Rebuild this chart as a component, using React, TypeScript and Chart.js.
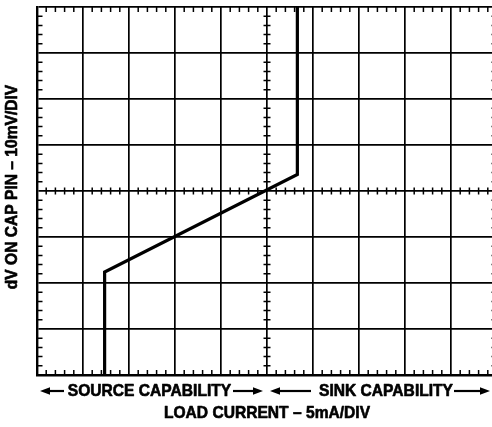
import React, { useEffect, useRef } from "react";
import { Chart, registerables } from "chart.js";

Chart.register(...registerables);

// Trace of dV on CAP pin (divisions) vs load current (divisions)
const traceX = [-3.53, -3.53, 0.66, 0.66];
const traceY = [-4, -1.76, 0.36, 4];

const xRange = [-5, 5];
const yRange = [-4, 4];
const minorPerDiv = 5;

const yTitle = "dV ON CAP PIN – 10mV/DIV";
const xTitle = "LOAD CURRENT – 5mA/DIV";
const sourceLabel = "SOURCE CAPABILITY";
const sinkLabel = "SINK CAPABILITY";

const FONT = '700 15.6px "Liberation Sans", Arial, Helvetica, sans-serif';

function boldText(ctx: CanvasRenderingContext2D, text: string, x: number, y: number) {
  ctx.save();
  ctx.translate(x, y);
  ctx.scale(1, 1.1);
  ctx.font = FONT;
  ctx.textAlign = "center";
  ctx.textBaseline = "middle";
  ctx.fillStyle = "#000";
  ctx.strokeStyle = "#000";
  ctx.lineWidth = 0.6;
  ctx.lineJoin = "round";
  ctx.fillText(text, 0, 0);
  ctx.strokeText(text, 0, 0);
  ctx.restore();
}

function arrow(ctx: CanvasRenderingContext2D, x1: number, x2: number, y: number) {
  const dir = x2 > x1 ? 1 : -1;
  const headLen = 10;
  const headHalf = 3.8;
  ctx.save();
  ctx.strokeStyle = "#000";
  ctx.fillStyle = "#000";
  ctx.lineWidth = 2.2;
  ctx.beginPath();
  ctx.moveTo(x1, y);
  ctx.lineTo(x2 - dir * headLen + dir * 1, y);
  ctx.stroke();
  ctx.beginPath();
  ctx.moveTo(x2, y);
  ctx.lineTo(x2 - dir * headLen, y - headHalf);
  ctx.lineTo(x2 - dir * headLen, y + headHalf);
  ctx.closePath();
  ctx.fill();
  ctx.restore();
}

const scopePlugin = {
  id: "scopeDecor",
  beforeDatasetsDraw(chart: any) {
    const ctx: CanvasRenderingContext2D = chart.ctx;
    const xs = chart.scales.x;
    const ys = chart.scales.y;
    const { left, right, top, bottom } = chart.chartArea;
    ctx.save();
    ctx.strokeStyle = "#000";
    ctx.lineWidth = 1.5;
    ctx.beginPath();
    const x0 = xs.getPixelForValue(0);
    const y0 = ys.getPixelForValue(0);
    for (let i = xRange[0] * minorPerDiv; i <= xRange[1] * minorPerDiv; i++) {
      if (i % minorPerDiv === 0) continue;
      const px = xs.getPixelForValue(i / minorPerDiv);
      ctx.moveTo(px, top);
      ctx.lineTo(px, top + 5);
      ctx.moveTo(px, bottom);
      ctx.lineTo(px, bottom - 5);
      ctx.moveTo(px, y0 - 3.5);
      ctx.lineTo(px, y0 + 3.5);
    }
    for (let i = yRange[0] * minorPerDiv; i <= yRange[1] * minorPerDiv; i++) {
      if (i % minorPerDiv === 0) continue;
      const py = ys.getPixelForValue(i / minorPerDiv);
      ctx.moveTo(left, py);
      ctx.lineTo(left + 5.5, py);
      ctx.moveTo(right, py);
      ctx.lineTo(right - 5.5, py);
      ctx.moveTo(x0 - 3.5, py);
      ctx.lineTo(x0 + 3.5, py);
    }
    ctx.stroke();
    ctx.restore();
  },
  afterDraw(chart: any) {
    const ctx: CanvasRenderingContext2D = chart.ctx;
    const { left, top, bottom } = chart.chartArea;
    // y title
    ctx.save();
    ctx.translate(left - 25, (top + bottom) / 2 - 4);
    ctx.rotate(-Math.PI / 2);
    boldText(ctx, yTitle, 0, 0);
    ctx.restore();
    // x labels
    const ly = bottom + 16;
    boldText(ctx, sourceLabel, 149.5, ly);
    boldText(ctx, sinkLabel, 386, ly);
    boldText(ctx, xTitle, 267, bottom + 38);
    arrow(ctx, 64, 40, ly);
    arrow(ctx, 233, 263, ly);
    arrow(ctx, 311, 270, ly);
    arrow(ctx, 454, 490, ly);
  },
};

export default function App() {
  const ref = useRef<HTMLCanvasElement | null>(null);
  useEffect(() => {
    document.body.style.margin = "0";
    const canvas = ref.current;
    if (!canvas) return;
    const chart = new Chart(canvas, {
      type: "scatter",
      data: {
        datasets: [
          {
            data: traceX.map((x, i) => ({ x, y: traceY[i] })),
            showLine: true,
            borderColor: "#000",
            borderWidth: 3.2,
            pointRadius: 0,
            fill: false,
            tension: 0,
          },
        ],
      },
      options: {
        responsive: false,
        animation: false,
        maintainAspectRatio: false,
        layout: { padding: { left: 37, top: 7, right: 5, bottom: 52 } },
        plugins: { legend: { display: false }, tooltip: { enabled: false } },
        scales: {
          x: {
            type: "linear",
            min: xRange[0],
            max: xRange[1],
            ticks: { display: false, stepSize: 1 },
            grid: { color: "#000", lineWidth: 1.7, drawTicks: false },
            border: { display: true, color: "#000", width: 2.4 },
          },
          y: {
            type: "linear",
            min: yRange[0],
            max: yRange[1],
            ticks: { display: false, stepSize: 1 },
            grid: { color: "#000", lineWidth: 1.7, drawTicks: false },
            border: { display: true, color: "#000", width: 2.4 },
          },
        },
      },
      plugins: [scopePlugin],
    });
    return () => chart.destroy();
  }, []);
  return (
    <div
      style={{
        position: "fixed",
        left: 0,
        top: 0,
        width: 492,
        height: 427,
        overflow: "hidden",
        background: "#fff",
      }}
    >
      <canvas ref={ref} width={502} height={427} style={{ display: "block" }} />
    </div>
  );
}
